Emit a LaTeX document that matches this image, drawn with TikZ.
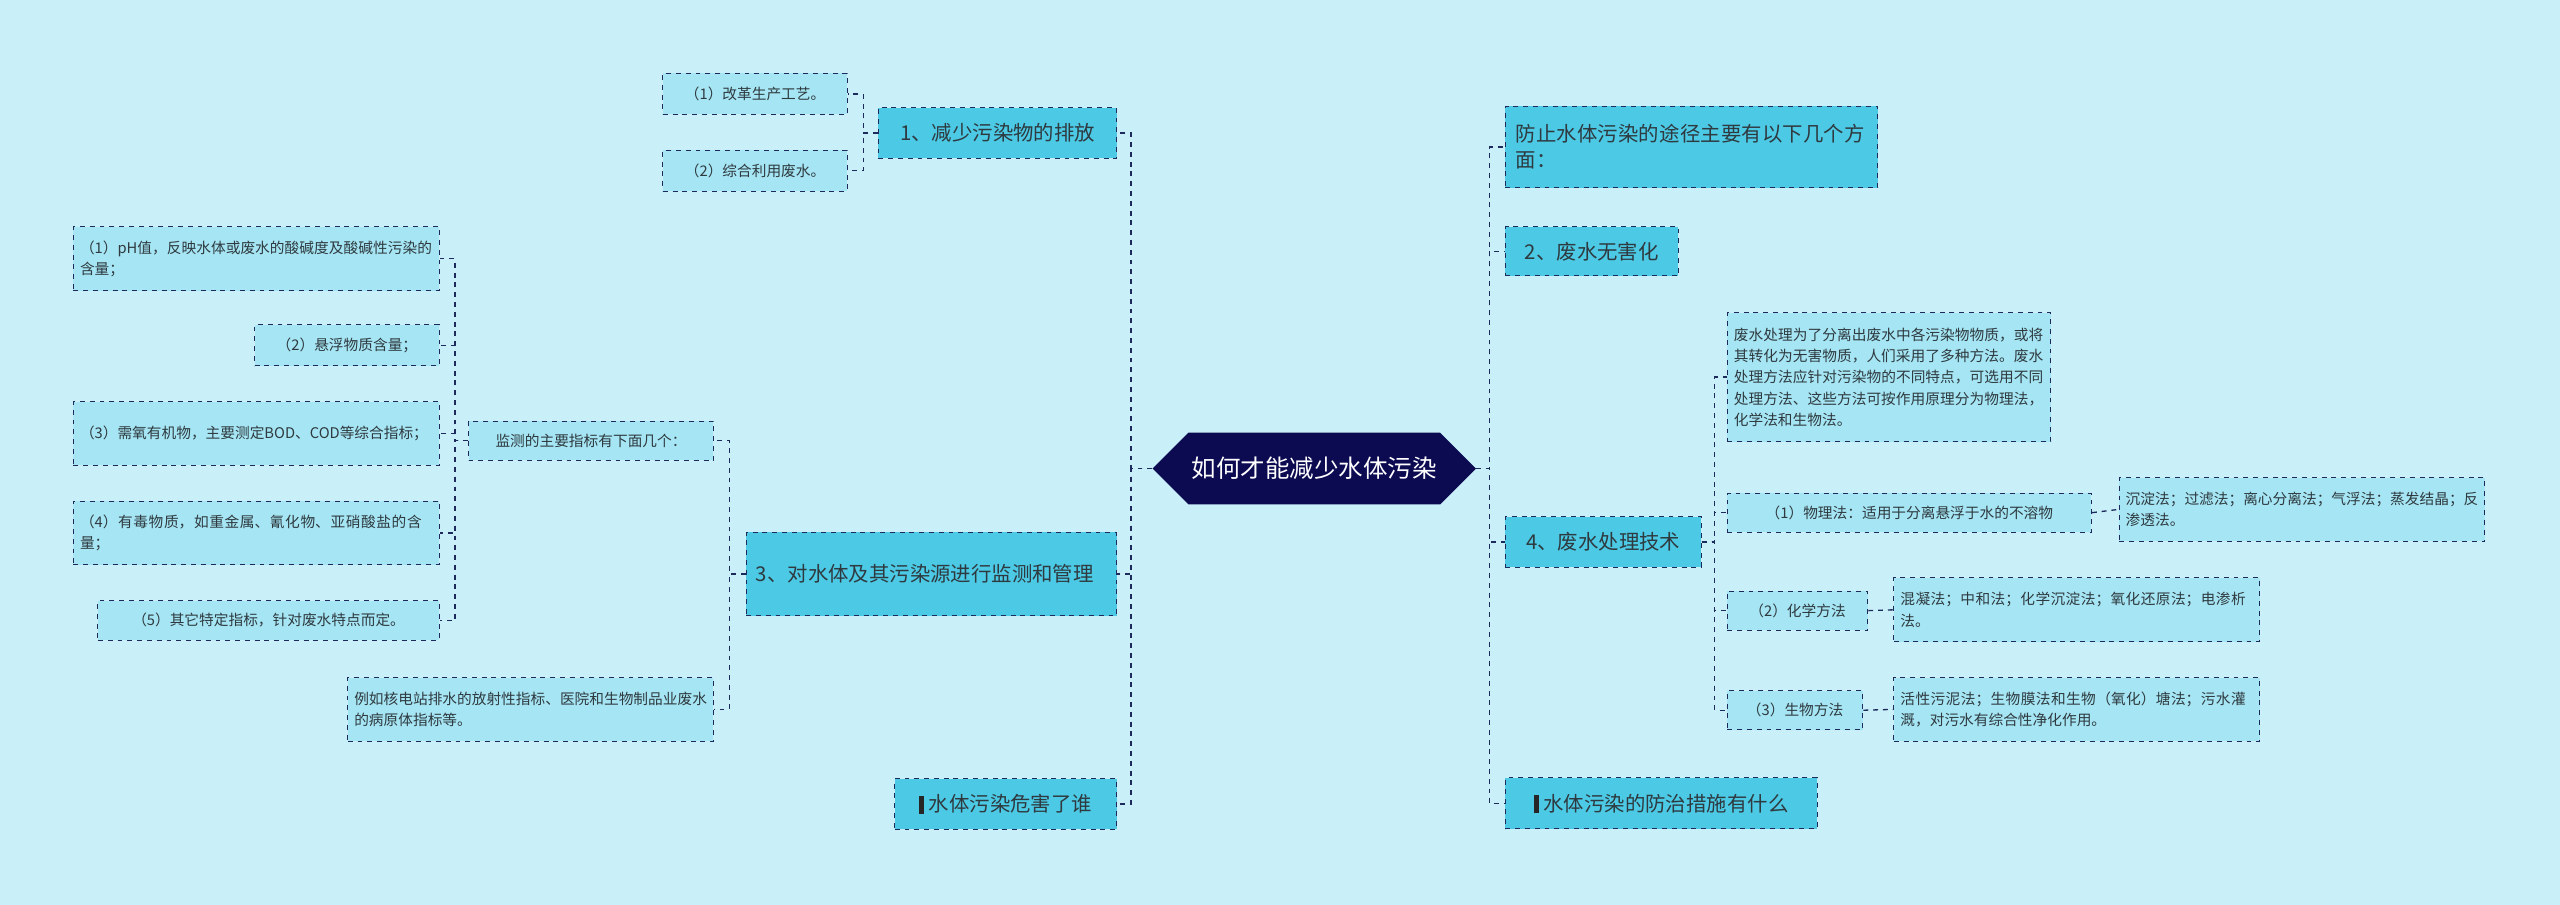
\documentclass[tikz,border=0pt]{standalone}
\usepackage{fontspec}
\setmainfont{Noto Sans CJK SC}
\XeTeXlinebreaklocale "zh"
\XeTeXlinebreakskip=0pt plus 1pt
\usetikzlibrary{shapes.symbols}
\definecolor{bgc}{HTML}{C9F0F8}
\definecolor{lvone}{HTML}{4CC9E4}
\definecolor{lvtwo}{HTML}{A6E5F3}
\definecolor{rootc}{HTML}{0C0B52}
\definecolor{linec}{HTML}{1C2A5C}
\definecolor{txtc}{HTML}{2E3A40}
\newcommand{\barmark}{{\color{black!85}\rule[-1pt]{3pt}{11pt}}\ }
\begin{document}
\begin{tikzpicture}[x=1pt,y=-1pt]
  \tikzstyle{box}=[draw=linec,dashed,line width=0.6pt,inner sep=4pt,text=txtc,align=left]
  \tikzstyle{main}=[box,fill=lvone,font=\fontsize{12.5}{16}\selectfont]
  \tikzstyle{sub}=[box,fill=lvtwo,font=\fontsize{9}{13}\selectfont]
  \tikzstyle{link}=[draw=linec,dashed,line width=0.8pt]
  \fill[bgc] (0,0) rectangle (1568,554);
  \useasboundingbox (0,0) rectangle (1568,554);
  % root
  \node[signal,signal to=west and east,fill=rootc,text=white,minimum height=44,inner xsep=2pt,font=\fontsize{15}{18}\selectfont] (root) at (805,287) {如何才能减少水体污染};
  % right side
  \node[main,minimum width=228,minimum height=50,text width=215] (r0) at (1036,90) {防止水体污染的途径主要有以下几个方面：};
  \node[main,minimum width=106,minimum height=30] (r1) at (975,154) {2、废水无害化};
  \node[main,minimum width=120,minimum height=31] (r2) at (982,332) {4、废水处理技术};
  \node[main,minimum width=191,minimum height=31] (r3) at (1017.5,492) {\barmark 水体污染的防治措施有什么};
  \node[sub,minimum width=198,minimum height=79,text width=190] (t0) at (1157,231) {废水处理为了分离出废水中各污染物物质，或将其转化为无害物质，人们采用了多种方法。废水处理方法应针对污染物的不同特点，可选用不同处理方法、这些方法可按作用原理分为物理法，化学法和生物法。};
  \node[sub,minimum width=223,minimum height=24] (p1) at (1169.5,314) {（1）物理法：适用于分离悬浮于水的不溶物};
  \node[sub,minimum width=224,minimum height=39,text width=216] (p1c) at (1410,312) {沉淀法；过滤法；离心分离法；气浮法；蒸发结晶；反渗透法。};
  \node[sub,minimum width=86,minimum height=24] (p2) at (1101,374) {（2）化学方法};
  \node[sub,minimum width=224,minimum height=39,text width=216] (p2c) at (1272,373.5) {混凝法；中和法；化学沉淀法；氧化还原法；电渗析法。};
  \node[sub,minimum width=83,minimum height=24] (p3) at (1099.5,435) {（3）生物方法};
  \node[sub,minimum width=224,minimum height=39,text width=216] (p3c) at (1272,434.5) {活性污泥法；生物膜法和生物（氧化）塘法；污水灌溉，对污水有综合性净化作用。};
  % left side
  \node[main,minimum width=146,minimum height=31] (l1) at (611,81.5) {1、减少污染物的排放};
  \node[sub,minimum width=113,minimum height=25] (l1a) at (462.5,57.5) {（1）改革生产工艺。};
  \node[sub,minimum width=113,minimum height=25] (l1b) at (462.5,104.5) {（2）综合利用废水。};
  \node[main,minimum width=227,minimum height=51,text width=215] (l2) at (570.5,351.5) {3、对水体及其污染源进行监测和管理};
  \node[sub,minimum width=150,minimum height=24] (m) at (362,270) {监测的主要指标有下面几个：};
  \node[sub,minimum width=224,minimum height=39,text width=216] (e) at (325,434.5) {例如核电站排水的放射性指标、医院和生物制品业废水的病原体指标等。};
  \node[sub,minimum width=224,minimum height=39,text width=216] (i1) at (157,158.5) {（1）pH值，反映水体或废水的酸碱度及酸碱性污染的含量；};
  \node[sub,minimum width=113,minimum height=25] (i2) at (212.5,211.5) {（2）悬浮物质含量；};
  \node[sub,minimum width=224,minimum height=39,text width=216] (i3) at (157,265.5) {（3）需氧有机物，主要测定BOD、COD等综合指标；};
  \node[sub,minimum width=224,minimum height=39,text width=216] (i4) at (157,326.5) {（4）有毒物质，如重金属、氰化物、亚硝酸盐的含量；};
  \node[sub,minimum width=209,minimum height=24] (i5) at (164.5,380) {（5）其它特定指标，针对废水特点而定。};
  \node[main,minimum width=136,minimum height=31] (l3) at (616,492.5) {\barmark 水体污染危害了谁};
  % links
  \foreach \n in {r0,r1,r2,r3} \draw[link] (root.east) -- ++(8,0) |- (\n.west);
  \foreach \n in {l1,l2,l3} \draw[link] (root.west) -- ++(-13,0) |- (\n.east);
  \foreach \n in {t0,p1,p2,p3} \draw[link] (r2.east) -- ++(8,0) |- (\n.west);
  \draw[link] (p1.east) -- (p1c.west);
  \draw[link] (p2.east) -- (p2c.west);
  \draw[link] (p3.east) -- (p3c.west);
  \foreach \n in {l1a,l1b} \draw[link] (l1.west) -- ++(-9,0) |- (\n.east);
  \foreach \n in {m,e} \draw[link] (l2.west) -- ++(-10,0) |- (\n.east);
  \foreach \n in {i1,i2,i3,i4,i5} \draw[link] (m.west) -- ++(-8,0) |- (\n.east);
\end{tikzpicture}
\end{document}
